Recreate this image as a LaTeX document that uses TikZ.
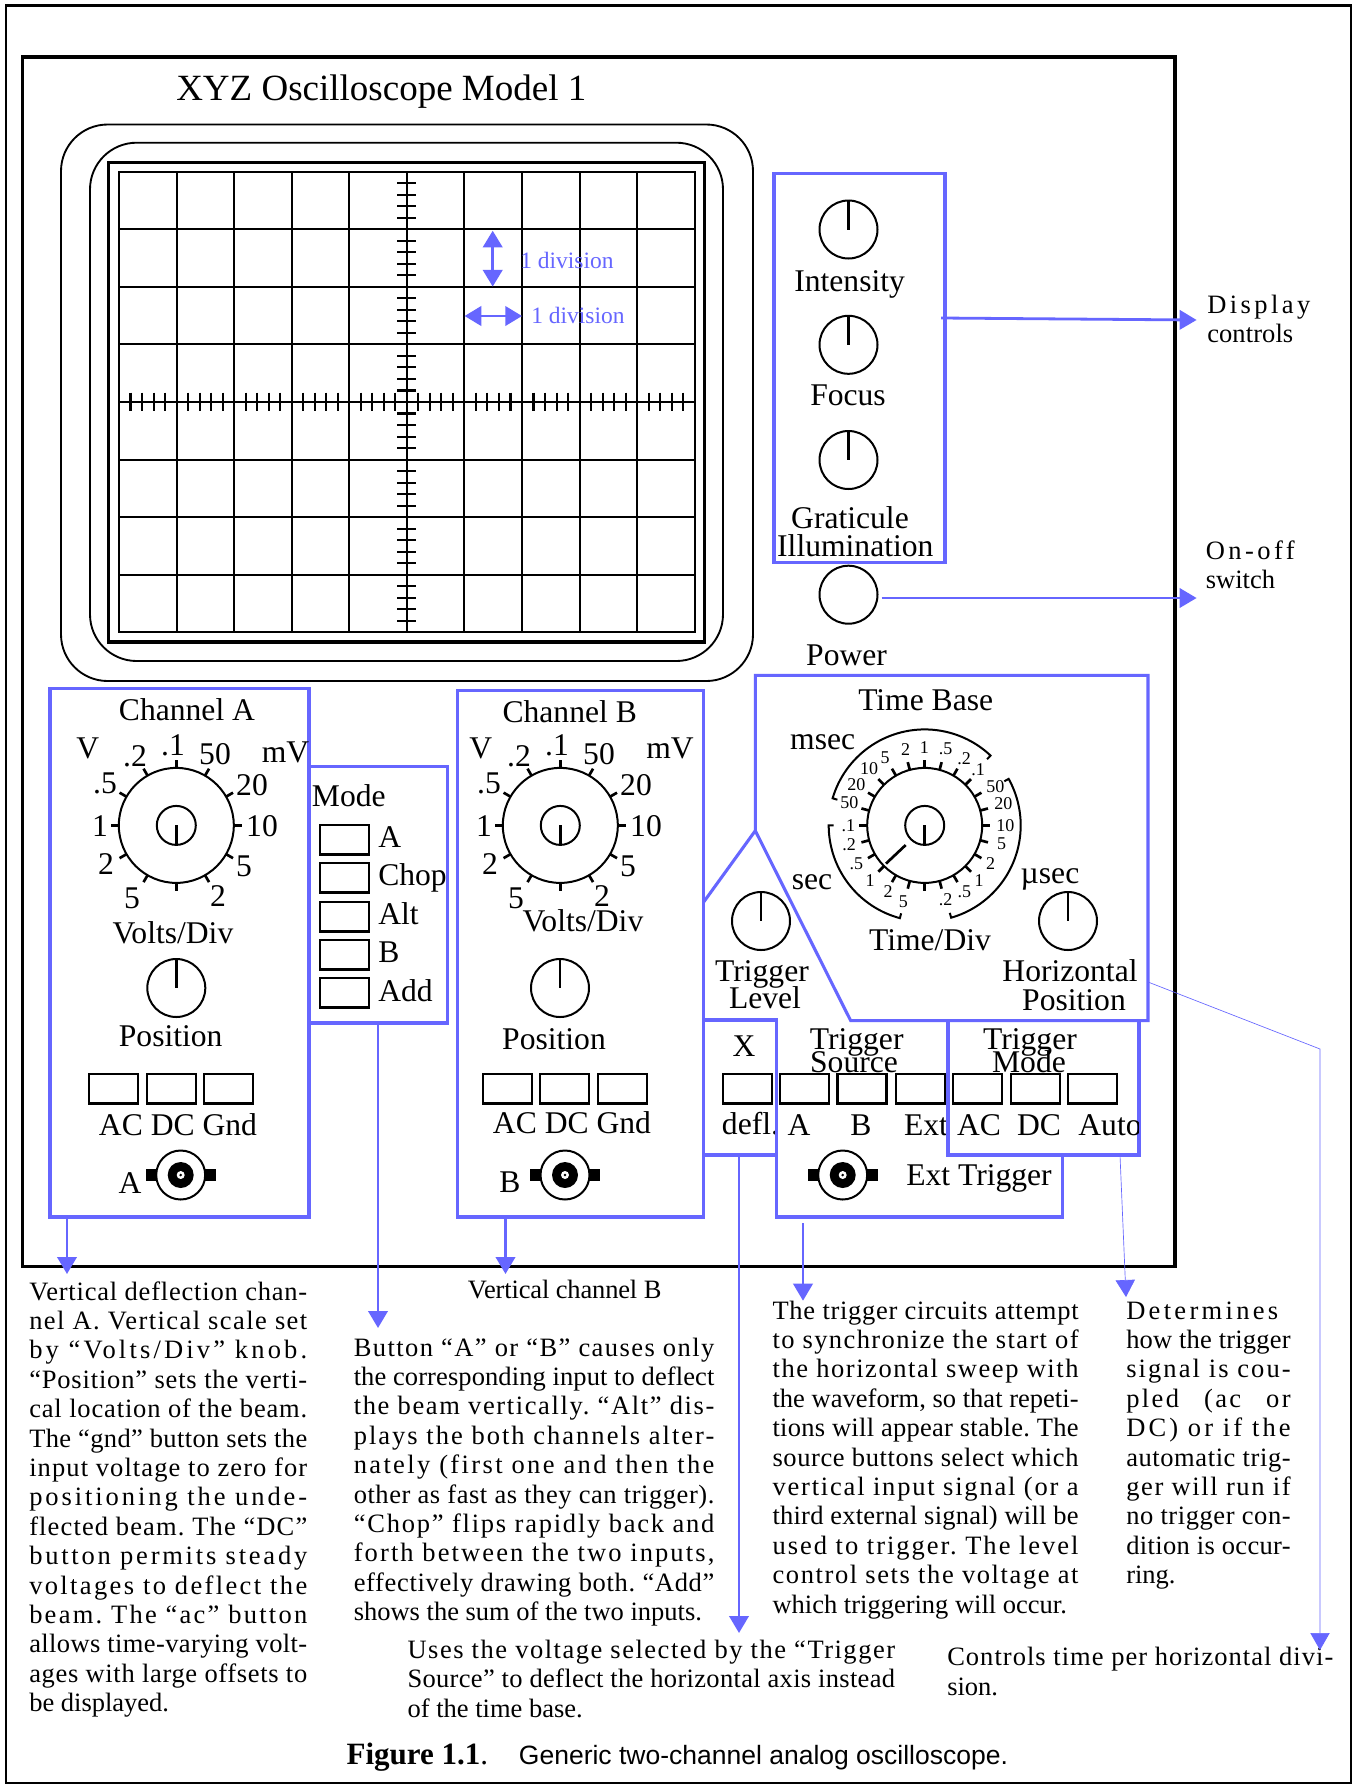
\documentclass[tikz,border=0pt]{standalone}
\usepackage{fontspec}
\setmainfont{Liberation Serif}
\newfontfamily\capfont{Liberation Sans}
\usetikzlibrary{arrows.meta,fit,calc}
\definecolor{bl}{HTML}{6666FF}
\newcommand\bodyfont{\fontsize{19.875}{22.05}\selectfont\frenchspacing}
\newcommand\knobfont{\fontsize{23.7}{26}\selectfont}
\newcommand\tinyfont{\fontsize{13.5}{15}\selectfont}
\newsavebox\fitboxA
\newsavebox\fitboxB
\newcommand\FL[2]{\hbox{\sbox\fitboxA{\addfontfeature{LetterSpace=1}#2}\sbox\fitboxB{\addfontfeature{LetterSpace=2}#2}\pgfmathsetmacro\lsp{1+(#1*0.75-\the\wd\fitboxA)/(\the\wd\fitboxB-\the\wd\fitboxA)}\addfontfeature{LetterSpace=\lsp}#2}}
\newcommand\NL[1]{\hbox{#1}}
\newcounter{auton}
\newcommand\lab[3]{\stepcounter{auton}\node[lbl] (L\arabic{auton}) at (#1,#2+1) {#3};}
\newcommand\labl[3]{\stepcounter{auton}\node[lbl,anchor=base west] (L\arabic{auton}) at (#1,#2+1) {#3};}
\newcommand\para[4]{\node[anchor=base west,inner sep=0pt,font=\bodyfont] (#1) at (#2,#3) {\vtop{#4}};}
\newcommand\rectn[6]{\node[fit={(#3,#4) (#5,#6)},inner sep=0pt,#2] (#1) {};}
\newcommand\btn[2]{\stepcounter{auton}\node[fit={(#1,#2) (#1+49,#2+29.6)},inner sep=0pt,btnbox] (B\arabic{auton}) {};}
\newcommand\knob[3]{\node[knobc] (#1) at (#2,#3) {};\draw[needle] (#1.north) -- (#1.center);}
\newcommand\bnc[3]{%
  \fill (#2-35,#3-6) rectangle (#2+35,#3+6);
  \node[circle,draw,fill=white,line width=1.5pt,minimum size=36.75pt,inner sep=0pt] (#1) at (#2,#3) {};
  \fill (#1.center) circle (9.75pt);
  \fill[white] (#1.center) circle (3pt);
  \fill (#1.center) circle (1.1pt);}
\newcommand\dial[4]{% name, x, y, step
  \node[circle,draw,line width=1.5pt,minimum size=86.25pt,inner sep=0pt] (#1) at (#2,#3) {};
  \node[circle,draw,line width=1.5pt,minimum size=29.25pt,inner sep=0pt] (#1c) at (#2,#3) {};
  \draw[needle] (#1c.center) -- (#1c.south);
  \foreach \a in {0,#4,...,359} \draw[needle] ({#2+57.5*cos(\a)},{#3-57.5*sin(\a)}) -- ({#2+65.5*cos(\a)},{#3-65.5*sin(\a)});}
\newcommand\tbarc[2]{\draw[line width=1.5pt] ({924.7+91*cos(#1)},{825.4-91*sin(#1)}) -- plot[domain=#1:#2,samples=50] ({924.7+96*cos(\x)},{825.4-96*sin(\x)}) -- ({924.7+91*cos(#2)},{825.4-91*sin(#2)});}
\newcommand\chlabels[1]{\foreach \x/\y/\t in {173/754/.1, 135/765.7/.2, 215/763/50, 105/792.5/.5, 252/794/20, 100/835/1, 262/835/10, 106/873.6/2, 244/875/5, 132/907.5/5, 218/905/2}{\lab{\x+#1}{\y}{\t}}}
\tikzset{
  lbl/.style={anchor=base,inner sep=0pt,font=\knobfont},
  btnbox/.style={draw,line width=2pt},
  bluebox/.style={draw=bl,line width=2.3pt},
  blueln/.style={draw=bl,line width=2.3pt},
  blarrow/.style={draw=bl,line width=2.1pt,-{Triangle[length=12.75pt,width=14.5pt]}},
  thinarrow/.style={draw=bl,line width=0.5pt,-{Triangle[length=12.75pt,width=14.5pt]}},
  dblarrow/.style={draw=bl,line width=2.1pt,{Triangle[length=12.5pt,width=14.5pt]}-{Triangle[length=12.5pt,width=14.5pt]}},
  knobc/.style={circle,draw,line width=1.5pt,minimum size=43.5pt,inner sep=0pt},
  needle/.style={line width=2pt},
  gridln/.style={line width=1.55pt},
}
\begin{document}
\begin{tikzpicture}[x=0.75pt,y=-0.75pt]
\useasboundingbox (0,0) rectangle (1355,1789);
\fill[white] (0,0) rectangle (1355,1789);
% frames
\rectn{outer}{draw,line width=2.2pt}{6}{5.6}{1351}{1783}
\rectn{panel}{draw,line width=2.6pt}{22.5}{57}{1175}{1266.3}
\labl{176}{99.6}{\fontsize{27.75}{30}\selectfont XYZ Oscilloscope Model 1}
% screen
\rectn{bez1}{draw,line width=1.4pt,rounded corners=35pt}{61}{124.5}{753}{681}
\rectn{bez2}{draw,line width=1.4pt,rounded corners=35pt}{90}{142.7}{723}{661}
\rectn{scr}{draw,line width=2.4pt}{108.4}{162.6}{704.8}{642}
\rectn{grid}{draw,gridln}{119}{171.7}{694.7}{632.3}
\foreach \i in {1,...,9} \draw[gridln] ({119+57.57*\i},171.7) -- ({119+57.57*\i},632.3);
\foreach \i in {1,...,7} \draw[gridln] (119,{171.7+57.575*\i}) -- (694.7,{171.7+57.575*\i});
\foreach \i in {1,...,49} \draw[gridln] ({119+11.514*\i},392.7) -- ({119+11.514*\i},411.3);
\foreach \i in {1,...,39} \draw[gridln] (397.4,{171.7+11.515*\i}) -- (416.4,{171.7+11.515*\i});
% blue division marks
\coordinate (vdTop) at (492.7,230.7);
\coordinate (vdBot) at (492.7,286.6);
\coordinate (hdL) at (464.6,316);
\coordinate (hdR) at (522,316);
\draw[dblarrow] (vdTop) -- (vdBot);
\draw[dblarrow] (hdL) -- (hdR);
\labl{520}{267}{\color{bl}\fontsize{17.6}{20}\selectfont 1 division}
\labl{531}{322}{\color{bl}\fontsize{17.6}{20}\selectfont 1 division}
% display controls
\rectn{dispBox}{bluebox}{774}{173.6}{945}{562.5}
\knob{kInt}{848.5}{229.5}
\knob{kFoc}{848.5}{344.8}
\knob{kGra}{848.5}{460}
\node[knobc] (kPow) at (848.5,594.7) {};
\lab{849.6}{290}{Intensity}
\lab{848}{404.3}{Focus}
\lab{850}{527}{Graticule}
\lab{855.3}{555}{Illumination}
\lab{846.6}{664}{Power}
\para{dispText}{1207}{313}{\FL{103}{Display}\FL{86}{controls}}
\para{onoffText}{1205.5}{559}{\FL{89}{On-off}\FL{69.4}{switch}}
\coordinate (dispS) at (941,318);
\coordinate (dispT) at (1196.6,320);
\coordinate (powT) at (1196.6,598);
\draw[blarrow] (dispS) -- (dispT);
\draw[blarrow] (kPow.east |- powT) ++(3,0) -- (powT);
% channel A
\rectn{chA}{bluebox}{50}{688.6}{309}{1217}
\lab{187}{719}{Channel A}
\dial{dA}{176.3}{825.4}{30}
\chlabels{0}
\lab{87.7}{757}{V}
\lab{285.6}{761}{mV}
\lab{173}{942}{Volts/Div}
\knob{kAp}{176.3}{988}
\lab{170.7}{1045.7}{Position}
\btn{89}{1074}\btn{147}{1074}\btn{204}{1074}
\lab{178}{1134}{AC DC Gnd}
\bnc{bncA}{180.7}{1175}
\lab{130}{1192}{A}
% mode
\rectn{modeBox}{bluebox}{309}{766.4}{447.7}{1023}
\labl{311.7}{805.7}{Mode}
\btn{320}{825}\btn{320}{863}\btn{320}{902}\btn{320}{940}\btn{320}{978}
\labl{378}{846.8}{A}
\labl{378}{884}{Chop}
\labl{378}{923.6}{Alt}
\labl{378}{961}{B}
\labl{378}{1000}{Add}
% channel B
\rectn{chB}{bluebox}{457.3}{690.7}{703.7}{1217}
\lab{569.7}{721.8}{Channel B}
\dial{dB}{560.3}{825.4}{30}
\chlabels{384}
\lab{480.7}{757}{V}
\lab{670}{757.5}{mV}
\lab{583}{930}{Volts/Div}
\knob{kBp}{560}{988}
\lab{554}{1048.6}{Position}
\btn{483}{1074}\btn{540}{1074}\btn{598}{1074}
\lab{572}{1132.5}{AC DC Gnd}
\bnc{bncB}{565}{1175}
\lab{510}{1191}{B}
% trigger level wedge
\coordinate (apex) at (755.3,830.7);
\coordinate (wedgeL) at (703.7,902);
\draw[blueln] (wedgeL) -- (apex);
\knob{kTrg}{761}{921}
\lab{762}{980}{Trigger}
\lab{765}{1007.5}{Level}
% X box
\rectn{xBox}{bluebox}{703.7}{1020}{776.5}{1155}
\lab{744}{1055}{X}
\btn{723}{1074}
\begin{scope}
\clip (703.7,1020) rectangle (776.5,1155);
\lab{750.5}{1133.6}{defl.}
\end{scope}
% trigger source
\coordinate (tsA) at (776.5,1020);
\coordinate (tsB) at (776.5,1217);
\coordinate (tsC) at (1062.7,1217);
\coordinate (tsD) at (1062.7,1155);
\draw[blueln] (tsA) -- (tsB) -- (tsC) -- (tsD);
\lab{856.7}{1048.6}{Trigger}
\lab{854}{1071}{Source}
\btn{780}{1074}\btn{837.7}{1074}\btn{896}{1074}
\lab{799}{1134}{A}
\lab{861}{1134}{B}
\lab{926}{1134}{Ext}
\bnc{bncT}{842.7}{1175}
\lab{979}{1184}{Ext Trigger}
% trigger mode
\rectn{tmBox}{bluebox}{948}{1020.7}{1139}{1155}
\lab{1030}{1048.6}{Trigger}
\lab{1029}{1071}{Mode}
\btn{953}{1074}\btn{1011}{1074}\btn{1068}{1074}
\lab{979}{1134}{AC}
\lab{1039}{1134}{DC}
\begin{scope}
\clip (948,1020.7) rectangle (1138,1155);
\lab{1110}{1134}{Auto}
\end{scope}
% time base
\coordinate (tbA) at (755.3,675.4);
\coordinate (tbB) at (1148,675.4);
\coordinate (tbC) at (1148,1020.7);
\coordinate (tbD) at (850.7,1020.7);
\draw[blueln] (tbA) -- (tbB) -- (tbC) -- (tbD) -- (apex) -- cycle;
\lab{925.7}{709}{Time Base}
\lab{822.7}{748}{msec}
\lab{812}{888.6}{sec}
\lab{1050}{882.5}{µsec}
\lab{930}{949}{Time/Div}
\dial{dT}{924.7}{825.4}{15}
\draw[needle] (905.7,845) -- (886,863.6);
\tbarc{163.6}{46.7}
\tbarc{29}{-74}
\tbarc{180}{255}
\foreach \x/\y/\t in {848.3/826/.1, 849.3/803/50, 856.3/785/20, 869/769/10, 885/758/5, 905.7/750/2, 924.3/747.5/1, 945.7/749/.5, 964/759/.2, 978/770/.1, 995.3/786.8/50, 1003.3/804/20, 1005.3/826/10, 1001.7/844/5, 990.7/864/2, 979/880.7/1, 964.3/892/.5, 945.7/900/.2, 903.3/902/5, 888/892/2, 870/880.7/1, 856.3/864/.5, 849/845/.2}
  {\stepcounter{auton}\node[inner sep=0pt,font=\tinyfont] (L\arabic{auton}) at (\x,\y) {\t};}
\knob{kHor}{1068}{921}
\lab{1070}{980.7}{Horizontal}
\lab{1074}{1009}{Position}
% paragraphs
\para{pA}{29}{1300}{\FL{278}{Vertical deflection chan-}\FL{278}{nel A. Vertical scale set}\FL{278}{by “Volts/Div” knob.}\FL{278}{“Position” sets the verti-}\FL{278}{cal location of the beam.}\FL{278}{The “gnd” button sets the}\FL{278}{input voltage to zero for}\FL{278}{positioning the unde-}\FL{278}{flected beam. The “DC”}\FL{278}{button permits steady}\FL{278}{voltages to deflect the}\FL{278}{beam. The “ac” button}\FL{278}{allows time-varying volt-}\FL{278}{ages with large offsets to}\NL{be displayed.}}
\para{pB}{467.7}{1298.7}{\FL{193.5}{Vertical channel B}}
\para{pM}{353.5}{1356}{\FL{360.6}{Button “A” or “B” causes only}\FL{360.6}{the corresponding input to deflect}\FL{360.6}{the beam vertically. “Alt” dis-}\FL{360.6}{plays the both channels alter-}\FL{360.6}{nately (first one and then the}\FL{360.6}{other as fast as they can trigger).}\FL{360.6}{“Chop” flips rapidly back and}\FL{360.6}{forth between the two inputs,}\FL{360.6}{effectively drawing both. “Add”}\NL{shows the sum of the two inputs.}}
\para{pX}{407.3}{1658.5}{\FL{487.5}{Uses the voltage selected by the “Trigger}\FL{487.5}{Source” to deflect the horizontal axis instead}\NL{of the time base.}}
\para{pT}{772.3}{1319}{\FL{306}{The trigger circuits attempt}\FL{306}{to synchronize the start of}\FL{306}{the horizontal sweep with}\FL{306}{the waveform, so that repeti-}\FL{306}{tions will appear stable. The}\FL{306}{source buttons select which}\FL{306}{vertical input signal (or a}\FL{306}{third external signal) will be}\FL{306}{used to trigger. The level}\FL{306}{control sets the voltage at}\NL{which triggering will occur.}}
\para{pD}{1126}{1319}{\FL{152}{Determines}\FL{164.4}{how the trigger}\FL{164.4}{signal is cou-}\hbox to 123.3pt{\addfontfeature{LetterSpace=9}pled\hfil (ac\hfil or}\FL{164.4}{DC) or if the}\FL{164.4}{automatic trig-}\FL{164.4}{ger will run if}\FL{164.4}{no trigger con-}\FL{164.4}{dition is occur-}\NL{ring.}}
\para{pC}{947}{1665.7}{\FL{386}{Controls time per horizontal divi-}\NL{sion.}}
\node[anchor=base west,inner sep=0pt] (cap) at (346.4,1764.5) {\fontsize{23.25}{26}\selectfont\textbf{Figure 1.1}.};
\node[anchor=base west,inner sep=0pt] (capb) at (518.7,1764.5) {\capfont\fontsize{19.875}{22}\selectfont Generic two-channel analog oscilloscope.};
% connectors
\coordinate (tipA) at (67,1274);
\coordinate (tipM) at (378,1328);
\coordinate (tipB) at (505.5,1274);
\coordinate (tipX) at (739,1633);
\coordinate (trgS) at (803,1223);
\coordinate (tipT) at (803,1300.7);
\coordinate (tipD) at (1126,1297);
\coordinate (leadS) at (1148,982);
\coordinate (leadM) at (1320,1049);
\coordinate (tipC) at (1320,1650);
\draw[blarrow] (chA.south -| tipA) -- (tipA);
\draw[blarrow] (modeBox.south -| tipM) -- (tipM);
\draw[blarrow] (chB.south -| tipB) -- (tipB);
\draw[blarrow] (xBox.south -| tipX) -- (tipX);
\draw[blarrow] (trgS) -- (tipT);
\draw[thinarrow] (1120,1155) -- (tipD);
\draw[thinarrow] (leadS) -- (leadM) -- (tipC);
\end{tikzpicture}
\end{document}
